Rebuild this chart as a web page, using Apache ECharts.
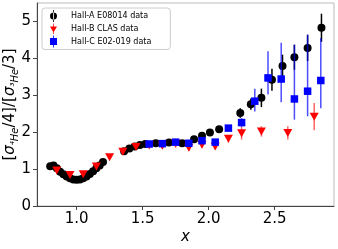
<!DOCTYPE html>
<html>
<head>
<meta charset="utf-8">
<script src="https://cdn.jsdelivr.net/npm/echarts@6/dist/echarts.min.js"></script>
<style>html,body{margin:0;padding:0;background:#fff}#c{width:338px;height:249px}</style>
</head>
<body>
<div id="c"></div>
<script>
// Hall-A E08014
const hallA_x = [0.80,0.825,0.85,0.875,0.90,0.925,0.95,0.975,1.00,1.025,1.05,1.075,1.10,1.125,1.15,1.175,1.20,
  1.36,1.40,1.44,1.48,1.52,1.60,1.70,1.80,1.89,1.95,2.01,2.08,2.24,2.32,2.40,2.48,2.56,2.65,2.75,2.855];
const hallA_y = [1.08,1.10,1.02,0.93,0.86,0.80,0.75,0.72,0.71,0.72,0.75,0.80,0.87,0.94,1.02,1.10,1.19,
  1.48,1.56,1.61,1.65,1.68,1.70,1.72,1.70,1.81,1.90,1.99,2.08,2.52,2.76,2.93,3.42,3.79,4.03,4.28,4.83];
const hallA_err = [0.03,0.03,0.03,0.03,0.03,0.03,0.03,0.03,0.03,0.03,0.03,0.03,0.03,0.03,0.03,0.03,0.04,
  0.05,0.05,0.05,0.05,0.05,0.05,0.06,0.06,0.07,0.08,0.08,0.09,0.13,0.15,0.25,0.30,0.31,0.34,0.35,0.38];
// Hall-B CLAS
const hallB_x = [0.85,0.95,1.05,1.15,1.25,1.35,1.45,1.55,1.65,1.75,1.85,1.95,2.05,2.15,2.25,2.40,2.60,2.80];
const hallB_y = [0.96,0.84,0.86,1.07,1.32,1.47,1.60,1.64,1.63,1.70,1.58,1.66,1.61,1.82,1.97,2.02,1.98,2.42];
const hallB_err = [0.03,0.03,0.03,0.03,0.04,0.05,0.05,0.06,0.07,0.12,0.08,0.08,0.08,0.10,0.17,0.14,0.18,0.37];
// Hall-C E02-019
const hallC_x = [1.55,1.65,1.75,1.85,1.95,2.05,2.15,2.25,2.35,2.45,2.55,2.65,2.75,2.85];
const hallC_y = [1.68,1.69,1.73,1.70,1.77,1.73,2.11,2.26,2.84,3.47,3.44,2.90,3.11,3.40];
const hallC_errMinus = [0.05,0.05,0.05,0.05,0.06,0.06,0.08,0.12,0.28,0.45,0.63,0.56,0.68,0.75];
const hallC_errPlus  = [0.05,0.05,0.05,0.05,0.06,0.06,0.08,0.12,0.34,0.72,0.98,1.47,1.54,1.15];
// tick labels
const xTicks = [1.0,1.5,2.0,2.5];
const yTicks = [0,1,2,3,4,5];

const chart = echarts.init(document.getElementById('c'), null, {renderer:'canvas'});
const FONT = 'DejaVu Sans';

function errSeries(name, xs, ys, em, ep, color, z) {
  return {
    name: name, type: 'custom', z: z, silent: true,
    data: xs.map((x,i)=>[x, ys[i]-em[i], ys[i]+ep[i]]),
    encode: {x: 0, y: [1,2]},
    renderItem: function(params, api) {
      const p1 = api.coord([api.value(0), api.value(1)]);
      const p2 = api.coord([api.value(0), api.value(2)]);
      return {type:'line', shape:{x1:p1[0],y1:p1[1],x2:p2[0],y2:p2[1]}, style:{stroke:color, lineWidth:1.5}};
    }
  };
}
const triDown = 'path://M0,0L10,0L5,8.66Z';
const iconA = 'path://M4.6,0H5.4V12H4.6Z M1.5,6A3.5,3.5 0 1 0 8.5,6A3.5,3.5 0 1 0 1.5,6Z';
const iconB = 'path://M4.6,0H5.4V12H4.6Z M1,3.5L9,3.5L5,10.4Z';
const iconC = 'path://M4.6,0H5.4V12H4.6Z M1.5,2.5H8.5V9.5H1.5Z';

chart.setOption({
  animation: false,
  backgroundColor: '#fff',
  grid: {left: 37, right: 4, top: 3, bottom: 43, show: true, borderColor: '#bbb', borderWidth: 1,
    outerBoundsMode: 'none', containLabel: false},
  legend: {
    orient: 'vertical', left: 42, top: 8,
    padding: [2, 19, 2, 8],
    itemWidth: 7, itemHeight: 12, itemGap: 1.5,
    borderColor: '#ccc', borderWidth: 1, borderRadius: 3, backgroundColor: 'rgba(255,255,255,0.8)',
    textStyle: {fontFamily: FONT, fontSize: 8, color: '#000', padding: [0,0,0,9]},
    data: [
      {name: 'Hall-A E08014 data', icon: iconA, itemStyle: {color: '#000', opacity: 1}},
      {name: 'Hall-B CLAS data', icon: iconB, itemStyle: {color: '#ff0000', opacity: 1}},
      {name: 'Hall-C E02-019 data', icon: iconC, itemStyle: {color: '#0000ff', opacity: 1}}
    ]
  },
  xAxis: {
    type: 'value', min: 0.7, max: 2.95,
    name: 'x', nameLocation: 'middle', nameGap: 24, nameMoveOverlap: false,
    nameTextStyle: {fontFamily: FONT, fontSize: 15, fontStyle: 'italic', color: '#000'},
    axisLine: {show: true, lineStyle: {color: '#444', width: 1}},
    axisTick: {show: true, length: 4, customValues: xTicks, lineStyle: {color: '#444'}},
    axisLabel: {customValues: xTicks, fontFamily: FONT, fontSize: 15, color: '#000', margin: 6,
      formatter: v => v.toFixed(1)},
    splitLine: {show: false}
  },
  yAxis: {
    type: 'value', min: 0, max: 5.5,
    name: '{b|[}{s|σ}{sub|⁴He}{b|/4]/[}{s|σ}{sub|³He}{b|/3]}',
    nameLocation: 'middle', nameGap: 17, nameRotate: 90, nameMoveOverlap: false,
    nameTextStyle: {
      color: '#000',
      rich: {
        b: {fontFamily: FONT, fontSize: 15, color: '#000', lineHeight: 20},
        s: {fontFamily: FONT, fontSize: 15, fontStyle: 'italic', color: '#000', lineHeight: 20},
        sub: {fontFamily: FONT, fontSize: 10, fontStyle: 'italic', color: '#000', verticalAlign: 'bottom', lineHeight: 20}
      }
    },
    axisLine: {show: true, lineStyle: {color: '#444', width: 1}},
    axisTick: {show: true, length: 4, customValues: yTicks, lineStyle: {color: '#444'}},
    axisLabel: {customValues: yTicks, fontFamily: FONT, fontSize: 15, color: '#000', margin: 6},
    splitLine: {show: false}
  },
  series: [
    errSeries('errA', hallA_x, hallA_y, hallA_err, hallA_err, '#000', 2),
    {name: 'Hall-A E08014 data', type: 'scatter', z: 3, symbol: 'circle', symbolSize: 8,
      itemStyle: {color: '#000', opacity: 1}, data: hallA_x.map((x,i)=>[x, hallA_y[i]])},
    errSeries('errB', hallB_x, hallB_y, hallB_err, hallB_err, 'rgba(255,0,0,0.6)', 4),
    {name: 'Hall-B CLAS data', type: 'scatter', z: 5, symbol: triDown, symbolSize: [9,8],
      itemStyle: {color: '#ff0000', opacity: 1}, data: hallB_x.map((x,i)=>[x, hallB_y[i]])},
    errSeries('errC', hallC_x, hallC_y, hallC_errMinus, hallC_errPlus, 'rgba(0,0,255,0.7)', 6),
    {name: 'Hall-C E02-019 data', type: 'scatter', z: 7, symbol: 'rect', symbolSize: 7.5,
      itemStyle: {color: '#0000ff', opacity: 1}, data: hallC_x.map((x,i)=>[x, hallC_y[i]])}
  ]
});
</script>
</body>
</html>
